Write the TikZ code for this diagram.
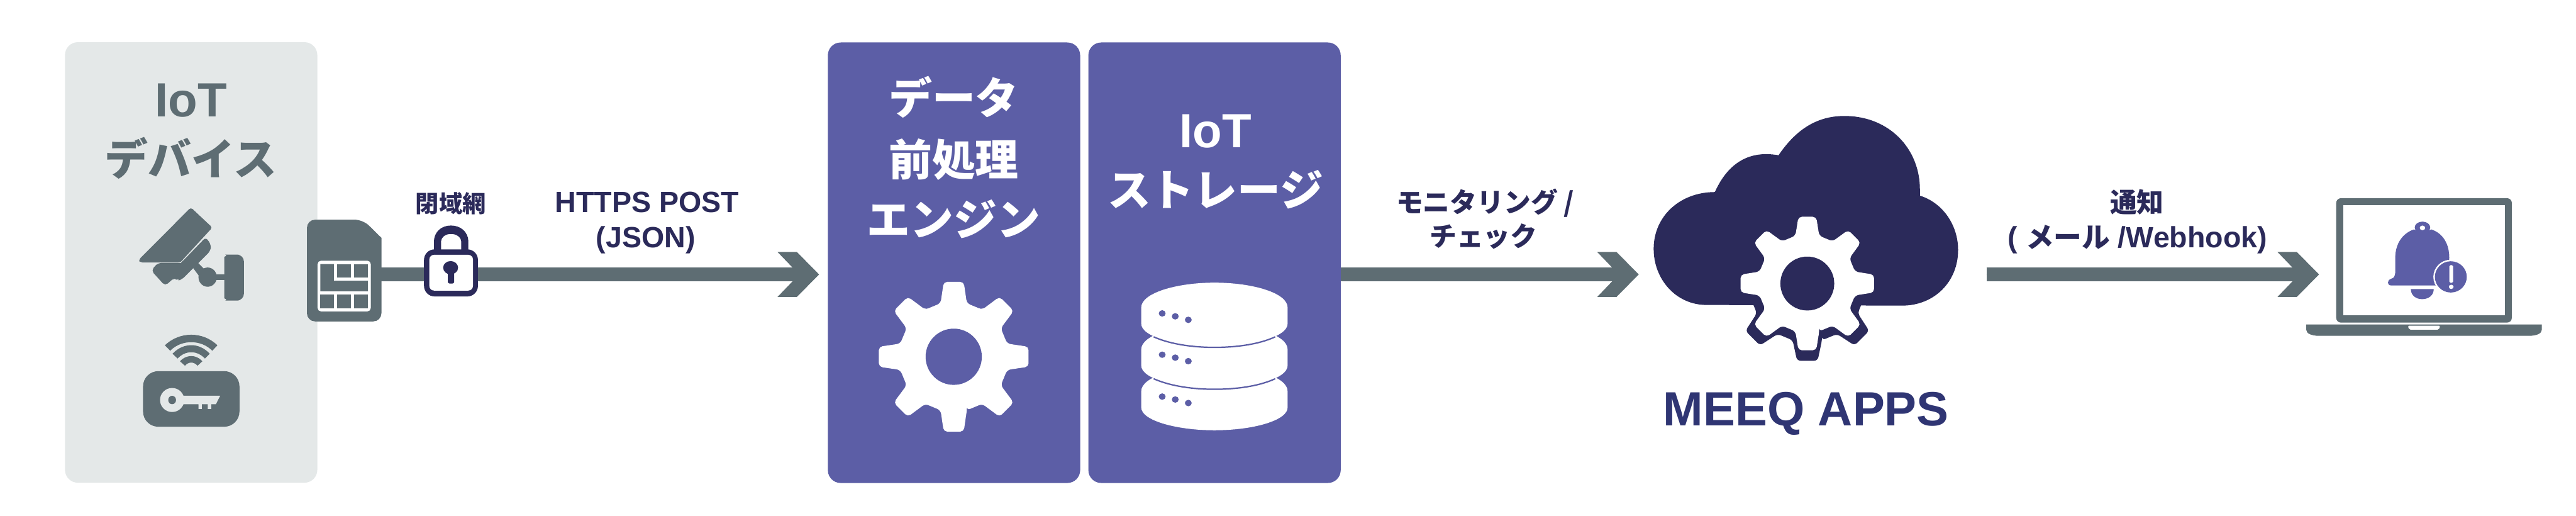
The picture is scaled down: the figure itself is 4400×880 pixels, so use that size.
\documentclass[tikz,border=0pt]{standalone}
\usepackage{fontspec}
\setmainfont{Liberation Sans}
\newfontfamily\jp{Noto Sans CJK JP}
\usetikzlibrary{arrows.meta,calc}
\definecolor{slate}{HTML}{5E6D73}
\definecolor{mist}{HTML}{E4E8E8}
\definecolor{violet}{HTML}{5C5EA6}
\definecolor{navy}{HTML}{2B2A5A}
\definecolor{meeq}{HTML}{2F3573}
\pgfdeclarearrow{
  name=Chev,
  setup code={\pgfarrowssettipend{0pt}\pgfarrowssetlineend{-20pt}\pgfarrowssetvisualbackend{-22pt}\pgfarrowssetbackend{-35.5pt}},
  drawing code={
    \pgfpathmoveto{\pgfqpoint{0pt}{0pt}}
    \pgfpathlineto{\pgfqpoint{-19pt}{19.25pt}}
    \pgfpathlineto{\pgfqpoint{-35.5pt}{19.25pt}}
    \pgfpathlineto{\pgfqpoint{-22.5pt}{5.75pt}}
    \pgfpathlineto{\pgfqpoint{-22.5pt}{-5.75pt}}
    \pgfpathlineto{\pgfqpoint{-35.5pt}{-19.25pt}}
    \pgfpathlineto{\pgfqpoint{-19pt}{-19.25pt}}
    \pgfpathclose
    \pgfusepathqfill
  }
}
\newcommand{\gearshape}[7]{% cx cy R r tip-angle base-angle colour
  \begin{scope}[shift={(#1,#2)}]
    \fill[#7,rounded corners=3pt] ({90-#6}:#4)
      \foreach \a in {0,45,...,315}{
        -- ({\a+90-#6}:#4) -- ({\a+90-#5}:#3) -- ({\a+90+#5}:#3) -- ({\a+90+#6}:#4)
      } -- cycle;
  \end{scope}}
\tikzset{
  px/.style={x=0.5pt,y=-0.5pt},
  z1/.style={shift={(80,50)},x=0.16667pt,y=-0.25641pt},
  z2/.style={shift={(500,280)},x=0.30303pt,y=-0.16667pt},
  z3/.style={shift={(1400,60)},x=0.29343pt,y=-0.25pt},
  z4/.style={shift={(2280,170)},x=0.35088pt,y=-0.19157pt},
  z5/.style={shift={(3360,300)},x=0.33179pt,y=-0.16667pt},
  devbox/.style={fill=mist,rounded corners=11pt,minimum width=215.5pt,minimum height=376pt,inner sep=0pt},
  srvbox/.style={fill=violet,rounded corners=11pt,minimum width=215.5pt,minimum height=376pt,inner sep=0pt},
  flow/.style={draw=slate,fill=slate,line width=11.5pt,-{Chev}},
  bigtxt/.style={anchor=base,inner sep=0pt,font=\fontsize{41}{41}\selectfont\bfseries},
  bigjp/.style={anchor=base,inner sep=0pt,font=\jp\fontsize{37}{37}\selectfont\bfseries},
  lbl/.style={anchor=base,inner sep=0pt,text=navy,font=\fontsize{25}{25}\selectfont\bfseries},
  lbljp/.style={anchor=base,inner sep=0pt,text=navy,font=\jp\fontsize{23}{25}\selectfont\bfseries}
}
\begin{document}
\begin{tikzpicture}[px]
\useasboundingbox (0,0) rectangle (4400,880);
\fill[white] (0,0) rectangle (4400,880);
% boxes
\node[devbox] (dev) at (326.5,448) {};
\node[srvbox] (pre) at (1629.5,448.5) {};
\node[srvbox] (sto) at (2074.5,448.5) {};
% titles
\node[bigtxt,text=slate] (t1) at (326,199) {IoT};
\node[bigjp,text=slate] (t2) at (326,299) {デバイス};
\node[bigjp,text=white] (t3) at (1629,195) {データ};
\node[bigjp,text=white] (t4) at (1629,300) {前処理};
\node[bigjp,text=white] (t5) at (1629,402) {エンジン};
\node[bigtxt,text=white] (t6) at (2076,252) {IoT};
\node[bigjp,text=white] (t7) at (2076,352) {ストレージ};
\node[anchor=base,inner sep=0pt,text=meeq,font=\fontsize{41}{41}\selectfont\bfseries] (t8) at (3085,727) {MEEQ APPS};
% camera
\begin{scope}[z1]
  \fill[slate,rounded corners=2pt] (470,768) -- (738,593) -- (848,660) -- (695,768) .. controls (685,775) and (675,776) .. (660,776) -- (478,776) -- cycle;
  \fill[slate,rounded corners=3pt] (535,803) -- (568,778) -- (670,778) .. controls (685,778) and (695,772) .. (702,768) -- (815,692) -- (842,718) -- (838,738) -- (690,834) -- (670,836) -- (655,826) -- (606,854) -- cycle;
  \fill[slate] (772,776) -- (805,797) -- (790,830) -- (750,795) -- cycle;
  \fill[slate] (824,825) circle [x radius=47,y radius=32];
  \fill[slate] (860,815) rectangle (915,835);
  \fill[slate,rounded corners=6pt] (909,780) .. controls (909,760) and (930,750) .. (950,750) -- (1010,750) -- (1010,903) -- (950,903) .. controls (930,903) and (909,893) .. (909,873) -- cycle;
  % wifi
  \fill[slate] (605,1052) .. controls (680,1005) and (800,1005) .. (874,1052) -- (848,1070) .. controls (790,1032) and (690,1032) .. (632,1070) -- cycle;
  \fill[slate] (644,1080) .. controls (700,1042) and (780,1042) .. (835,1080) -- (810,1096) .. controls (770,1068) and (710,1068) .. (670,1096) -- cycle;
  \fill[slate] (682,1105) .. controls (715,1082) and (765,1082) .. (797,1105) -- (772,1120) .. controls (755,1106) and (725,1106) .. (708,1120) -- cycle;
  % key box
  \fill[slate,rounded corners=13pt] (493,1138) rectangle (987,1323);
  \fill[mist] (642,1234) circle [x radius=62,y radius=40];
  \fill[mist] (680,1220) -- (888,1220) -- (866,1248) -- (842,1248) -- (842,1264) -- (825,1264) -- (825,1248) -- (794,1248) -- (794,1264) -- (777,1264) -- (777,1248) -- (680,1248) -- cycle;
  \fill[slate] (642,1234) circle [x radius=20,y radius=14];
\end{scope}
% sim
\node[minimum width=63.5pt,minimum height=87pt,inner sep=0pt] (sim) at (587.5,462) {};
\begin{scope}[z2]
  \fill[slate,rounded corners=7pt] (40,285) -- (198,285) [sharp corners] -- (250,378) [rounded corners=7pt] -- (250,806) -- (40,806) -- cycle;
  \fill[white,rounded corners=3pt] (70,495) rectangle (220,755);
  \fill[slate] (78,512) -- (116,512) -- (116,598) -- (212,598) -- (212,652) -- (78,652) -- cycle;
  \fill[slate] (125,512) rectangle (164,582);
  \fill[slate] (173,512) rectangle (212,582);
  \fill[slate] (78,668) rectangle (116,738);
  \fill[slate] (125,668) rectangle (164,738);
  \fill[slate] (173,668) rectangle (212,738);
\end{scope}
% connectors
\coordinate (a1e) at (1399,468.5);
\coordinate (a2e) at (2799,468.5);
\coordinate (a3s) at (3393,468.5);
\coordinate (a3e) at (3961,468.5);
\draw[flow] (sim.east |- a1e) -- (a1e);
\draw[flow] (sto.east |- a2e) -- (a2e);
\draw[flow] (a3s) -- (a3e);
% lock
\begin{scope}[z2]
  \fill[navy] (398,450) -- (398,400) .. controls (398,345) and (420,315) .. (446,315) .. controls (472,315) and (495,345) .. (495,400) -- (495,450) -- (475,450) -- (475,400) .. controls (475,375) and (462,358) .. (446,358) .. controls (430,358) and (418,375) .. (418,400) -- (418,450) -- cycle;
  \fill[navy,rounded corners=9pt] (370,437) rectangle (522,678);
  \fill[white,rounded corners=4pt] (385,465) rectangle (508,648);
  \fill[navy] (445,531) circle [x radius=21,y radius=34];
  \fill[navy,rounded corners=1.5pt] (437,550) rectangle (455,612);
\end{scope}
% gear and disks
\gearshape{1629}{609}{129}{94}{7.6}{13.8}{white}
\fill[violet] (1629,609) circle [radius=48];
\begin{scope}[z3]
  \foreach \dy/\dd in {286/284,143/141,0/0}{
    \fill[white,shift={(0,\dy)}] (936,930) .. controls (936,880) and (1040,845) .. (1149,845) .. controls (1260,845) and (1362,880) .. (1362,930) -- (1362,985) .. controls (1362,1030) and (1260,1063) .. (1149,1063) .. controls (1040,1063) and (936,1030) .. (936,985) -- cycle;
    \fill[violet,shift={(0,\dd)}] (997,950) circle [x radius=10,y radius=11];
    \fill[violet,shift={(0,\dd)}] (1035,960) circle [x radius=10,y radius=11];
    \fill[violet,shift={(0,\dd)}] (1073,972) circle [x radius=10,y radius=11];
  }
  \foreach \dy in {143,0}{
    \draw[violet,line width=1.2pt,shift={(0,\dy)}] (972,1030) .. controls (1020,1055) and (1085,1066) .. (1149,1066) .. controls (1215,1066) and (1280,1055) .. (1326,1030);
  }
\end{scope}
% cloud
\begin{scope}[z4]
  \fill[navy] (905,915) .. controls (830,915) and (776,800) .. (776,665) .. controls (776,520) and (840,412) .. (925,412)
    .. controls (950,310) and (990,243) .. (1050,243) .. controls (1060,243) and (1070,245) .. (1080,248)
    .. controls (1120,140) and (1170,73) .. (1240,73) .. controls (1350,73) and (1424,220) .. (1424,400)
    -- (1424,428) .. controls (1480,460) and (1517,560) .. (1517,670) .. controls (1517,810) and (1460,918) .. (1380,918) -- cycle;
\end{scope}
\gearshape{3087}{484}{133}{100}{7.6}{14.5}{navy}
\gearshape{3087}{484}{115}{84}{7.6}{14.0}{white}
\fill[navy] (3087,484) circle [radius=46];
% laptop
\begin{scope}[z5]
  \fill[slate,rounded corners=4pt] (950,115) rectangle (1402,752);
  \fill[white] (968,152) rectangle (1385,716);
  \fill[slate] (873,762) -- (1479,762) -- (1479,790) .. controls (1479,808) and (1465,820) .. (1445,820) -- (907,820) .. controls (887,820) and (873,808) .. (873,790) -- cycle;
  \fill[white,rounded corners=1pt] (1134,768) -- (1218,768) -- (1214,788) -- (1138,788) -- cycle;
  \fill[violet] (1172,265) circle [x radius=20,y radius=30];
  \fill[white] (1172,267) circle [x radius=7,y radius=12];
  \fill[violet] (1150,275) .. controls (1120,295) and (1102,350) .. (1102,420) -- (1102,490) .. controls (1102,515) and (1098,525) .. (1092,527) .. controls (1080,535) and (1080,562) .. (1092,562) -- (1240,562) -- (1241,420) .. controls (1241,350) and (1225,295) .. (1195,275) .. controls (1185,285) and (1160,285) .. (1150,275) -- cycle;
  \fill[violet] (1142,580) -- (1201,580) .. controls (1201,612) and (1188,632) .. (1171,632) .. controls (1155,632) and (1142,612) .. (1142,580) -- cycle;
  \fill[white] (1245,518) circle [x radius=45,y radius=88];
  \fill[violet] (1245,518) circle [x radius=41,y radius=80];
  \fill[white,rounded corners=1pt] (1241,458) rectangle (1251,548);
  \fill[white] (1246,569) circle [x radius=6,y radius=11];
\end{scope}
% labels
\node[lbljp,font=\jp\fontsize{20}{22}\selectfont\bfseries] (l1) at (770,362) {閉域網};
\node[lbl] (l2) at (1105,363) {HTTPS POST};
\node[lbl] (l3) at (1103,423) {(JSON)};
\node[lbljp] (l4) at (2537,362) {モニタリング /};
\node[lbljp] (l5) at (2534,421) {チェック};
\node[lbljp] (l6) at (3650,362) {通知};
\node[lbl] (l7) at (3651,423) {( {\jp\fontsize{24}{25}\selectfont メール} /Webhook)};
\end{tikzpicture}
\end{document}
